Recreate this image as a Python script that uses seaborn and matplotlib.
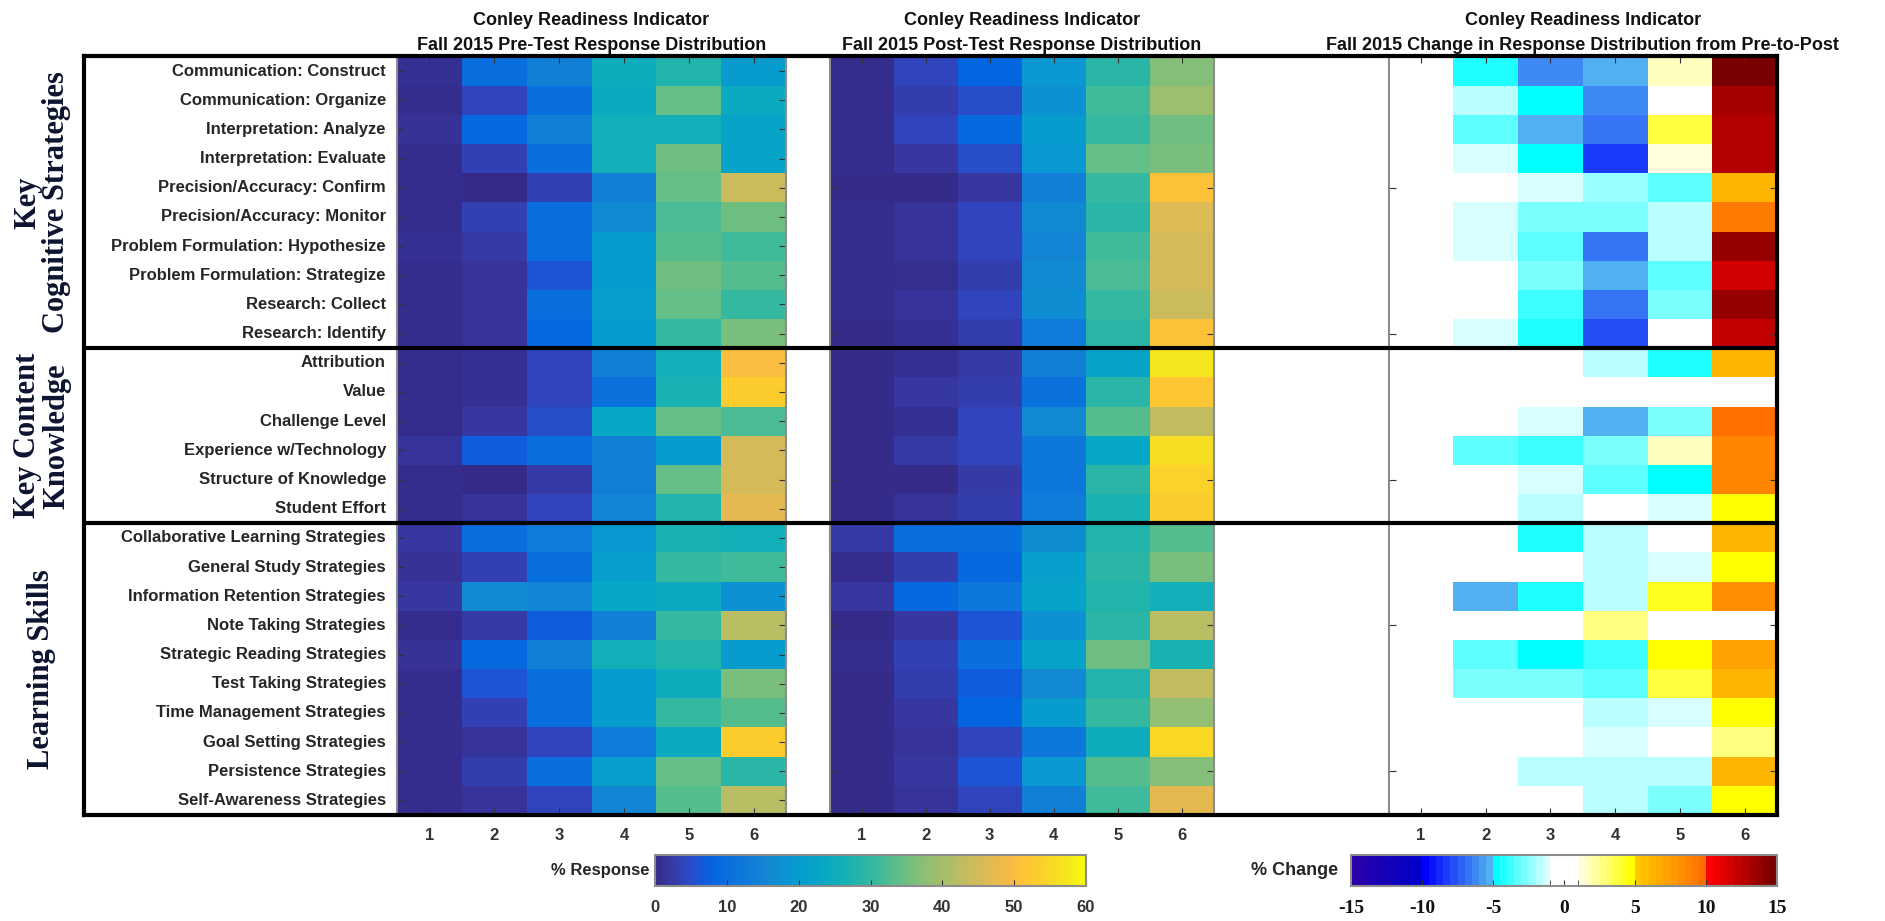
import numpy as np
import pandas as pd
import matplotlib
matplotlib.use("Agg")
import matplotlib.pyplot as plt
import seaborn as sns
from matplotlib.colors import LinearSegmentedColormap, ListedColormap, Normalize, to_rgb
from matplotlib.cm import ScalarMappable

# Datos
skills = [
    "Communication: Construct", "Communication: Organize", "Interpretation: Analyze",
    "Interpretation: Evaluate", "Precision/Accuracy: Confirm", "Precision/Accuracy: Monitor",
    "Problem Formulation: Hypothesize", "Problem Formulation: Strategize", "Research: Collect",
    "Research: Identify",
    "Attribution", "Value", "Challenge Level", "Experience w/Technology",
    "Structure of Knowledge", "Student Effort",
    "Collaborative Learning Strategies", "General Study Strategies",
    "Information Retention Strategies", "Note Taking Strategies", "Strategic Reading Strategies",
    "Test Taking Strategies", "Time Management Strategies", "Goal Setting Strategies",
    "Persistence Strategies", "Self-Awareness Strategies",
]
groups = ["Key\nCognitive Strategies", "Key Content\nKnowledge", "Learning Skills"]
group_rows = [(0, 10), (10, 16), (16, 26)]
levels = ["1", "2", "3", "4", "5", "6"]

pre = [
    [1.0, 10, 14, 25, 28, 20], [0.6, 4, 10, 24, 34, 24], [1.2, 9, 14, 26, 26, 22],
    [0.6, 3.5, 10, 26, 35, 22], [0.5, 0.2, 3.5, 14, 34, 44], [0.6, 3.5, 10, 16, 32, 35],
    [1.0, 2.5, 10, 20, 33, 31], [0.6, 1.5, 6, 20, 35, 33], [0.6, 1.5, 10, 21, 34, 30],
    [0.6, 1.5, 9, 20, 30, 36],
    [0.5, 1.0, 4, 14, 26, 50], [0.5, 1.0, 4, 11, 27, 53], [0.6, 2.0, 5, 23, 34, 32],
    [1.5, 7, 10, 14, 20, 45], [0.5, 0.2, 2.5, 14, 34, 45], [0.6, 1.5, 4, 15, 28, 47],
    [2.0, 10, 13, 19, 27, 26], [1.2, 3.5, 10, 21, 30, 31], [2.0, 16, 15, 23, 24, 18],
    [0.6, 2.5, 7, 14, 30, 42], [1.2, 9, 14, 26, 28, 20], [0.6, 6, 10, 20, 25, 36],
    [0.6, 3.5, 10, 20, 30, 33], [0.6, 1.5, 4, 13, 24, 53], [0.6, 3, 10, 21, 34, 29],
    [0.6, 1.5, 4, 15, 33, 42],
]
post = [
    [0.6, 4, 8, 19, 29, 37], [0.6, 3, 5, 18, 31, 39], [0.6, 4, 9, 20, 30, 35],
    [0.6, 2, 5, 19, 34, 36], [0.4, 0.3, 2, 14, 30, 51], [0.5, 1.5, 4, 16, 29, 46],
    [0.5, 1.5, 4, 15, 31, 45], [0.5, 0.8, 3, 16, 32, 45], [0.5, 1.5, 4, 17, 30, 44],
    [0.4, 1.0, 3, 13, 29, 51],
    [0.4, 1.0, 2.5, 14, 22, 57], [0.4, 2.0, 3, 11, 29, 52], [0.4, 1.0, 4, 16, 33, 43],
    [0.4, 2.5, 4, 12, 23, 56], [0.4, 0.3, 2.5, 12, 29, 54], [0.4, 1.5, 3, 13, 27, 53],
    [2.5, 10, 10, 17, 28, 33], [0.5, 3, 9, 21, 29, 36], [2.0, 9, 12, 22, 28, 26],
    [0.4, 2, 6, 18, 29, 42], [0.6, 3.5, 10, 22, 35, 27], [0.4, 3, 7, 16, 28, 43],
    [0.4, 2, 8, 20, 30, 38], [0.4, 1.5, 4, 12, 25, 55], [0.4, 2, 6, 19, 33, 37],
    [0.4, 1.5, 4, 14, 31, 47],
]
change = [
    [0, -4.2, -6.5, -5.5, 1.5, 14.5], [0, -2.0, -4.8, -6.5, 0, 13.0],
    [0, -3.5, -5.5, -7.0, 3.5, 12.5], [0, -1.5, -5.0, -8.5, 1.2, 12.5],
    [0, 0, -1.5, -2.5, -3.5, 6.0], [0, -1.5, -2.8, -2.8, -2.0, 9.0],
    [0, -1.5, -3.2, -7.0, -2.0, 13.5], [0, 0, -3.0, -5.5, -3.5, 11.5],
    [0, 0, -4.0, -7.0, -2.8, 13.5], [0, -1.5, -4.5, -8.0, 0, 12.0],
    [0, 0, 0, -1.8, -4.2, 6.0], [0, 0, 0, 0, 0, 0],
    [0, 0, -1.3, -5.5, -3.0, 9.5], [0, -3.5, -3.8, -3.0, 1.5, 8.5],
    [0, 0, -1.5, -3.2, -5.0, 8.5], [0, 0, -2.0, 0, -1.5, 4.5],
    [0, 0, -4.5, -1.8, 0, 6.0], [0, 0, 0, -1.8, -1.3, 4.5],
    [0, -5.5, -4.2, -2.0, 4.3, 8.0], [0, 0, 0, 2.5, 0, 0],
    [0, -3.5, -5.0, -4.0, 4.8, 7.0], [0, -3.0, -3.0, -3.5, 3.5, 6.0],
    [0, 0, 0, -2.0, -1.5, 4.5], [0, 0, 0, -1.5, 0, 2.8],
    [0, 0, -2.0, -2.0, -2.0, 6.0], [0, 0, 0, -2.0, -2.8, 4.8],
]

# Mapas de color (parula aproximado y escala de cambio por tramos)
parula_pts = [
    (0, "#352a87"), (2, "#3637a0"), (4, "#3243ba"), (6, "#2053d4"), (8, "#0363e1"),
    (12, "#0d75dc"), (16, "#1485d4"), (20, "#0998d1"), (24, "#06a7c6"), (28, "#15b1b4"),
    (32, "#38b99e"), (36, "#65be86"), (40, "#92bf73"), (44, "#b7bd64"), (48, "#d9ba56"),
    (52, "#f8ba44"), (54, "#ffc337"), (56, "#fccd2e"), (60, "#f5e51d"), (63, "#f9fb0e"),
]
parula = LinearSegmentedColormap.from_list("parula", [(i / 63, c) for i, c in parula_pts])


def ramp(c0, c1, n):
    a, b = np.array(to_rgb(c0)), np.array(to_rgb(c1))
    return [tuple(a + (b - a) * t) for t in np.linspace(0, 1, n)]


change_cmap = ListedColormap(
    ramp("#2a00a8", "#0000c8", 10) + ramp("#0000ff", "#50b0f0", 10)
    + ramp("#00ffff", "#d8ffff", 8) + [(1, 1, 1)] * 4
    + ramp("#ffffe0", "#ffff00", 8) + ramp("#ffc800", "#ff7000", 10)
    + ramp("#ff0000", "#780000", 10))

plt.rcParams["font.family"] = ["Liberation Sans", "DejaVu Sans"]
plt.rcParams["axes.unicode_minus"] = False

W, H = 1885, 921
fig = plt.figure(figsize=(W / 100, H / 100), dpi=100)
y0 = 1 - 815 / H
hh = 758.5 / H
ax_pre = fig.add_axes([397 / W, y0, 389 / W, hh])
ax_post = fig.add_axes([829.5 / W, y0, 384.5 / W, hh])
ax_chg = fig.add_axes([1388.5 / W, y0, 388.5 / W, hh])

df_pre = pd.DataFrame(pre, index=skills, columns=levels)
df_post = pd.DataFrame(post, index=skills, columns=levels)
df_chg = pd.DataFrame(change, index=skills, columns=levels)

sns.heatmap(df_pre, ax=ax_pre, cmap=parula, vmin=0, vmax=60, cbar=False)
sns.heatmap(df_post, ax=ax_post, cmap=parula, vmin=0, vmax=60, cbar=False, yticklabels=False)
sns.heatmap(df_chg, ax=ax_chg, cmap=change_cmap, vmin=-15, vmax=15, cbar=False, yticklabels=False)

titles = ["Fall 2015 Pre-Test Response Distribution",
          "Fall 2015 Post-Test Response Distribution",
          "Fall 2015 Change in Response Distribution from Pre-to-Post"]

for ax, t in zip([ax_pre, ax_post, ax_chg], titles):
    ax.set_title("Conley Readiness Indicator\n" + t, fontsize=13, fontweight="bold",
                 linespacing=1.6, pad=5, color="#111111")
    for s in ax.spines.values():
        s.set_visible(True)
        s.set_color("#8c8c8c")
        s.set_linewidth(1.5)
    ax.tick_params(axis="x", direction="in", length=5, top=True, bottom=True,
                   labelsize=12, labelcolor="#333333", color="#333333", pad=9)
    ax.tick_params(axis="y", direction="in", length=5, left=True, right=True,
                   color="#333333")
    plt.setp(ax.get_xticklabels(), fontweight="bold", rotation=0)
    ax.set_xlabel("")
    ax.set_ylabel("")

ax_pre.tick_params(axis="y", labelsize=12, labelcolor="#262626", pad=8, labelrotation=0)
plt.setp(ax_pre.get_yticklabels(), fontweight="bold")
for ax in [ax_post, ax_chg]:
    ax.set_yticks(np.arange(4.5, 26, 5))
    ax.set_yticklabels([])

# Marco exterior con separadores de grupo
box = fig.add_axes([84 / W, y0, (1777 - 84) / W, hh], facecolor="none", zorder=10)
box.set_xlim(0, 1)
box.set_ylim(26, 0)
box.set_xticks([])
box.set_yticks([])
for s in box.spines.values():
    s.set_linewidth(3)
    s.set_color("black")
for _, end in group_rows[:-1]:
    box.axhline(end, color="black", lw=3)

for name, (a, b) in zip(groups, group_rows):
    yc = y0 + hh * (1 - (a + b) / 2 / 26)
    fig.text(42 / W, yc, name, rotation=90, ha="center", va="center",
             family="Liberation Serif", fontweight="bold", fontsize=22,
             linespacing=1.0, color="#0d1430")

# Barras de color
cax1 = fig.add_axes([655 / W, 1 - 886 / H, 431 / W, 31 / H])
cb1 = fig.colorbar(ScalarMappable(Normalize(0, 60), parula), cax=cax1, orientation="horizontal")
cb1.set_ticks([0, 10, 20, 30, 40, 50, 60])
cb1.outline.set_edgecolor("#8c8c8c")
cb1.outline.set_linewidth(1.5)
cax1.tick_params(direction="in", length=4, color="#333333", labelsize=12,
                 labelcolor="#333333", pad=10)
plt.setp(cax1.get_xticklabels(), fontweight="bold")
fig.text(649 / W, 1 - 870 / H, "% Response", ha="right", va="center",
         fontsize=12, fontweight="bold", color="#262626")

cax2 = fig.add_axes([1351 / W, 1 - 886 / H, 426 / W, 31 / H])
cb2 = fig.colorbar(ScalarMappable(Normalize(-15, 15), change_cmap), cax=cax2, orientation="horizontal")
cb2.set_ticks([-15, -10, -5, 0, 5, 10, 15])
cb2.outline.set_edgecolor("#8c8c8c")
cb2.outline.set_linewidth(1.5)
cax2.set_xticks([-1, 1], minor=True)
cax2.tick_params(which="both", direction="in", length=4, color="#333333", pad=10)
cax2.tick_params(labelsize=14, labelcolor="#111111")
plt.setp(cax2.get_xticklabels(), fontweight="bold", family="Liberation Serif")
fig.text(1338 / W, 1 - 870 / H, "% Change", ha="right", va="center",
         fontsize=13, fontweight="bold", color="#262626")

fig.savefig("out.png", dpi=100)
